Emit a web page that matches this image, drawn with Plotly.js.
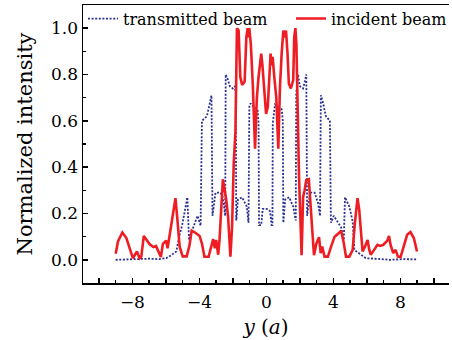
<!DOCTYPE html>
<html>
<head>
<meta charset="utf-8">
<script src="https://cdn.plot.ly/plotly-3.0.1.min.js"></script>
<style>html,body{margin:0;padding:0;background:#fff;}#chart{width:452px;height:340px;}</style>
</head>
<body>
<div id="chart"></div>
<script>
// Transmitted beam (blue dotted)
var transX = [-9.0,-8.17,-6.98,-6.39,-5.98,-5.68,-5.38,-5.21,-5.03,-4.72,-4.62,-4.42,-4.11,-3.93,-3.85,-3.55,-3.37,-3.28,-3.22,-3.04,-2.74,-2.60,-2.46,-2.43,-2.31,-2.19,-2.01,-1.89,-1.83,-1.80,-1.70,-1.46,-1.17,-1.07,-1.02,-0.95,-0.77,-0.53,-0.47,-0.44,-0.31,-0.22,0.02,0.22,0.31,0.36,0.38,0.51,0.71,0.91,0.98,1.01,1.12,1.36,1.60,1.75,1.78,1.89,1.99,2.19,2.29,2.38,2.43,2.60,2.88,3.08,3.20,3.25,3.37,3.55,3.79,3.85,4.02,4.26,4.46,4.62,4.69,4.95,5.15,5.25,5.54,5.93,6.63,7.40,8.11,8.88,9.0];
var transY = [0.0,0.002,0.005,0.003,0.007,0.02,0.036,0.10,0.15,0.27,0.086,0.13,0.19,0.147,0.60,0.62,0.68,0.71,0.19,0.29,0.29,0.27,0.19,0.80,0.78,0.75,0.74,0.75,0.72,0.17,0.26,0.27,0.23,0.16,0.66,0.675,0.66,0.65,0.59,0.15,0.15,0.22,0.22,0.21,0.15,0.15,0.59,0.67,0.66,0.65,0.60,0.16,0.26,0.27,0.23,0.17,0.72,0.80,0.75,0.74,0.77,0.80,0.19,0.29,0.29,0.245,0.19,0.71,0.68,0.62,0.60,0.16,0.19,0.165,0.14,0.086,0.27,0.23,0.165,0.043,0.029,0.007,0.004,0.0,0.003,0.003,0.002];

// Incident beam (red solid)
var incX = [-9.0,-8.86,-8.60,-8.36,-8.07,-7.97,-7.73,-7.57,-7.47,-7.32,-7.18,-6.98,-6.75,-6.59,-6.49,-6.30,-6.18,-5.99,-5.90,-5.77,-5.60,-5.43,-5.31,-5.18,-5.00,-4.76,-4.60,-4.46,-4.22,-3.99,-3.85,-3.70,-3.45,-3.31,-3.18,-3.08,-3.00,-2.88,-2.80,-2.68,-2.60,-2.49,-2.40,-2.29,-2.15,-2.05,-1.95,-1.85,-1.76,-1.66,-1.60,-1.56,-1.45,-1.30,-1.20,-1.12,-1.07,-1.02,-0.93,-0.81,-0.68,-0.57,-0.47,-0.37,-0.31,-0.24,-0.18,-0.08,-0.02,0.08,0.18,0.25,0.31,0.37,0.47,0.59,0.71,0.81,0.91,1.01,1.11,1.17,1.26,1.34,1.46,1.60,1.66,1.73,1.79,1.85,1.95,2.10,2.19,2.28,2.38,2.53,2.68,2.84,2.98,3.14,3.24,3.33,3.47,3.67,3.86,4.07,4.36,4.46,4.62,4.75,4.95,5.15,5.28,5.44,5.54,5.64,5.74,5.88,6.04,6.14,6.23,6.43,6.63,6.79,6.98,7.22,7.32,7.41,7.57,7.71,7.85,8.01,8.21,8.40,8.60,8.80,8.99];
var incY = [0.026,0.08,0.118,0.094,0.029,0.007,0.036,0.007,0.014,0.103,0.089,0.068,0.055,0.06,0.043,0.012,0.069,0.083,0.05,0.115,0.19,0.266,0.17,0.057,0.015,0.015,0.06,0.126,0.116,0.103,0.07,0.013,0.013,0.05,0.09,0.05,0.086,0.022,0.086,0.244,0.348,0.30,0.26,0.187,0.014,0.144,0.42,0.55,1.0,0.99,0.905,0.79,0.755,0.77,0.96,1.0,0.96,1.0,0.93,0.75,0.48,0.70,0.79,0.84,0.89,0.84,0.776,0.66,0.63,0.66,0.79,0.89,0.84,0.876,0.79,0.70,0.48,0.75,0.89,0.99,0.96,0.99,0.89,0.76,0.74,0.776,0.96,1.0,0.93,0.65,0.35,0.02,0.27,0.30,0.345,0.348,0.2,0.02,0.07,0.098,0.029,0.057,0.014,0.014,0.057,0.1,0.118,0.126,0.072,0.014,0.014,0.043,0.158,0.266,0.216,0.115,0.036,0.057,0.086,0.043,0.022,0.043,0.065,0.06,0.065,0.083,0.103,0.065,0.029,0.043,0.014,0.012,0.057,0.108,0.12,0.094,0.036];

var xTickVals = [-10,-8,-6,-4,-2,0,2,4,6,8,10];
var xTickText = ['','\u22128','','\u22124','','0','','4','','8',''];
var xMinorVals = [-11,-9,-7,-5,-3,-1,1,3,5,7,9,11];
var yTickVals = [0,0.2,0.4,0.6,0.8,1.0];
var yTickText = ['0.0','0.2','0.4','0.6','0.8','1.0'];
var yMinorVals = [0.1,0.3,0.5,0.7,0.9];

var serif = 'DejaVu Serif, serif';

var traces = [
  {x: transX, y: transY, type: 'scatter', mode: 'lines', name: 'transmitted beam',
   line: {color: '#2b2f8f', width: 1.8, dash: '2px,1.6px'}, legend: 'legend'},
  {x: incX, y: incY, type: 'scatter', mode: 'lines', name: 'incident beam',
   line: {color: '#ee1d23', width: 2.6}, legend: 'legend2'}
];

var layout = {
  width: 452, height: 340,
  margin: {l: 83, r: 0, t: 5, b: 57},
  paper_bgcolor: '#fff', plot_bgcolor: '#fff',
  font: {family: serif, color: '#000', size: 16},
  showlegend: true,
  legend: {x: 0, y: 1.012, xanchor: 'left', yanchor: 'top', bgcolor: 'rgba(0,0,0,0)',
           font: {family: serif, size: 16, color: '#000'}, borderwidth: 0},
  legend2: {x: 0.569, y: 1.012, xanchor: 'left', yanchor: 'top', bgcolor: 'rgba(0,0,0,0)',
           font: {family: serif, size: 16, color: '#000'}, borderwidth: 0},
  xaxis: {
    range: [-10.95, 10.9], showgrid: false, zeroline: false,
    showline: true, linecolor: '#000', linewidth: 1.5, mirror: true,
    ticks: 'inside', ticklen: 5, tickwidth: 1.5, tickcolor: '#000',
    tickmode: 'array', tickvals: xTickVals, ticktext: xTickText,
    minor: {tickmode: 'array', tickvals: xMinorVals, ticks: 'inside', ticklen: 3, tickwidth: 1.5, tickcolor: '#000'},
    tickfont: {family: serif, size: 17, color: '#000'},
    ticklabelstandoff: 3,
    title: {text: '<i>y</i> (<i>a</i>)', font: {family: serif, size: 20, color: '#000'}, standoff: 9}
  },
  yaxis: {
    range: [-0.1, 1.1], showgrid: false, zeroline: false,
    showline: true, linecolor: '#000', linewidth: 1.5,
    ticks: 'inside', ticklen: 5, tickwidth: 1.5, tickcolor: '#000',
    tickmode: 'array', tickvals: yTickVals, ticktext: yTickText,
    minor: {tickmode: 'array', tickvals: yMinorVals, ticks: 'inside', ticklen: 3, tickwidth: 1.5, tickcolor: '#000'},
    tickfont: {family: serif, size: 17, color: '#000'},
    title: {text: 'Normalized intensity', font: {family: serif, size: 21, color: '#000'}, standoff: 12}
  }
};

Plotly.newPlot('chart', traces, layout, {staticPlot: true, displayModeBar: false});
</script>
</body>
</html>
